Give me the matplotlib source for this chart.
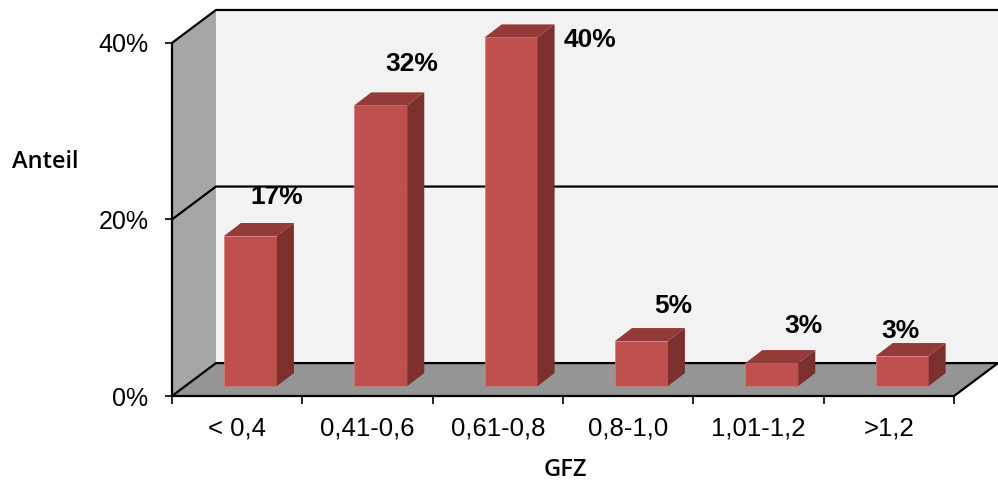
import matplotlib.pyplot as plt
from matplotlib.patches import Polygon

categories = ["< 0,4", "0,41-0,6", "0,61-0,8", "0,8-1,0", "1,01-1,2", ">1,2"]
shares = [17.0, 31.8, 39.5, 5.1, 2.6, 3.4]  # percent
y_ticks = [0, 20, 40]

# label offsets in pixels from the top of each bar's front face
label_dx = [26, 31, 79, 32, 32, -2]
label_dy = [39, 41, -3, 35, 37, 25]

FRONT = "#c0504d"
TOP = "#933b39"
SIDE = "#7b302e"

# depth of the 3d box in data units
DX = 44 / 130.5
DY = 33 / 8.85
# bar placement within the depth
BX0, BY0 = 13.3 / 130.5, 10 / 8.85
BDX, BDY = 17 / 130.5, 13 / 8.85
BW = 53 / 130.5


def poly(ax, pts, color, z):
    ax.add_patch(Polygon(pts, closed=True, facecolor=color, edgecolor="none",
                         zorder=z, clip_on=False))


def line(ax, xs, ys, lw=1.6, z=3):
    ax.plot(xs, ys, color="black", lw=lw, zorder=z, clip_on=False,
            solid_capstyle="butt")


def main():
    fig = plt.figure(figsize=(9.98, 4.87), dpi=100)
    ax = fig.add_axes([172 / 998, 91 / 487, 826 / 998, 386 / 487])
    n = len(categories)
    top = y_ticks[-1]
    ax.set_xlim(0, n + DX)
    ax.set_ylim(0, top + DY)
    for s in ax.spines.values():
        s.set_visible(False)

    # walls and floor
    poly(ax, [(DX, DY), (n + DX, DY), (n + DX, top + DY), (DX, top + DY)], "#f2f2f2", 0)
    poly(ax, [(0, 0), (DX, DY), (DX, top + DY), (0, top)], "#a6a6a6", 0)
    poly(ax, [(0, 0), (n, 0), (n + DX, DY), (DX, DY)], "#959595", 0)

    # gridlines on the walls
    for yv in y_ticks:
        line(ax, [0, DX, n + DX], [yv, yv + DY, yv + DY], z=1)
    line(ax, [0, 0], [0, top])
    line(ax, [0, n, n + DX], [0, 0, DY])

    # bars
    for i, v in enumerate(shares):
        x0 = i + 0.5 + BX0 - BW / 2
        x1 = x0 + BW
        b = BY0
        t = b + v
        ax.bar(x0 + BW / 2, v, BW, bottom=b, color=FRONT, zorder=4,
               edgecolor="#d27a77", linewidth=0.5)
        poly(ax, [(x0, t), (x1, t), (x1 + BDX, t + BDY), (x0 + BDX, t + BDY)], TOP, 4)
        poly(ax, [(x1, b), (x1 + BDX, b + BDY), (x1 + BDX, t + BDY), (x1, t)], SIDE, 4)
        ax.annotate(f"{v:.0f}%", xy=(x0 + BW / 2, t),
                    xytext=(label_dx[i], label_dy[i]), textcoords="offset pixels",
                    ha="center", va="center", fontsize=19, fontweight="bold",
                    family="Liberation Sans", zorder=5)

    # ticks
    ax.set_yticks(y_ticks)
    ax.set_yticklabels([f"{t}%" for t in y_ticks], family="Liberation Sans", fontsize=18)
    ax.tick_params(axis="y", length=5, width=1.2, pad=12)
    ax.set_xticks(range(n + 1))
    ax.set_xticklabels([])
    ax.set_xticks([i + 0.5 for i in range(n)], minor=True)
    ax.set_xticklabels(categories, minor=True, family="Liberation Sans", fontsize=18.5)
    ax.tick_params(axis="x", which="major", length=6, width=1.2)
    ax.tick_params(axis="x", which="minor", length=0, pad=15)

    fig.text(12 / 998, 1 - 162 / 487, "Anteil", ha="left", va="center",
             fontsize=17, family="Open Sans", fontweight="semibold")
    fig.text(565 / 998, 1 - 470 / 487, "GFZ", ha="center", va="center",
             fontsize=17, family="Open Sans", fontweight="semibold")

    fig.savefig("out.png", dpi=100)


if __name__ == "__main__":
    main()
